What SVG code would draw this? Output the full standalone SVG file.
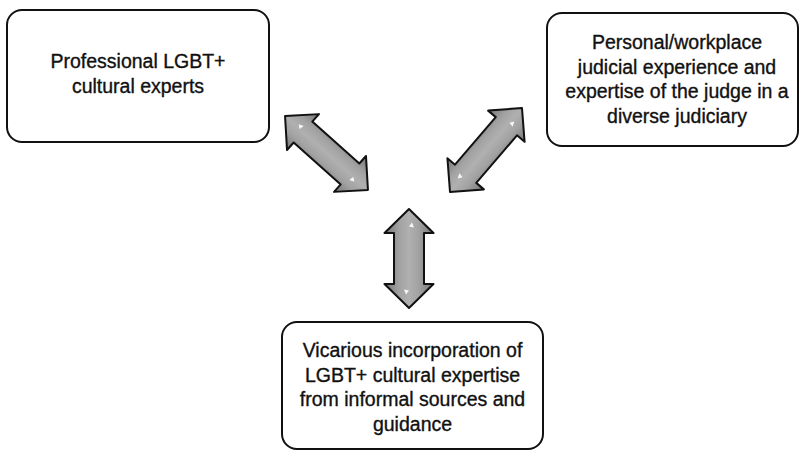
<svg xmlns="http://www.w3.org/2000/svg" width="799" height="450" viewBox="0 0 799 450">
  <defs>
    <linearGradient id="shade" x1="0" y1="0" x2="0" y2="1">
      <stop offset="0" stop-color="#747474"/>
      <stop offset="0.3" stop-color="#a2a2a2"/>
      <stop offset="0.5" stop-color="#b0b0b0"/>
      <stop offset="0.7" stop-color="#a2a2a2"/>
      <stop offset="1" stop-color="#747474"/>
    </linearGradient>
  </defs>
  <style>
    .box { fill: #ffffff; stroke: #111111; stroke-width: 2; }
    .lbl { font-family: "Liberation Sans", Arial, sans-serif; font-size: 19.5px; fill: #111111; stroke: #111111; stroke-width: 0.35; text-anchor: middle; }
    .arrow { fill: url(#shade); stroke: #111111; stroke-width: 2; stroke-linejoin: round; }
    .hl { fill: #ffffff; opacity: 0.9; }
  </style>
  <rect width="799" height="450" fill="#ffffff"/>

  <g id="connectors">
    <g id="arrow-left" transform="translate(326.5,153) rotate(41.7)">
      <polygon class="arrow" points="-55.5,0 -31.5,-24 -31.5,-14 31.5,-14 31.5,-24 55.5,0 31.5,24 31.5,14 -31.5,14 -31.5,24"/>
      <polygon class="hl" points="-40,-3 -35,-5 -36,0"/>
      <polygon class="hl" points="40,3 35,5 36,0"/>
    </g>
    <g id="arrow-right" transform="translate(486,150) rotate(-49.4)">
      <polygon class="arrow" points="-55.3,0 -31.3,-24 -31.3,-14 31.3,-14 31.3,-24 55.3,0 31.3,24 31.3,14 -31.3,14 -31.3,24"/>
      <polygon class="hl" points="-40,-3 -35,-5 -36,0"/>
      <polygon class="hl" points="40,3 35,5 36,0"/>
    </g>
    <g id="arrow-bottom" transform="translate(409,258.5) rotate(90)">
      <polygon class="arrow" points="-49.5,0 -25.5,-24.5 -25.5,-15 25.5,-15 25.5,-24.5 49.5,0 25.5,24.5 25.5,15 -25.5,15 -25.5,24.5"/>
      <polygon class="hl" points="-36,-3 -31,-5 -32,0"/>
      <polygon class="hl" points="36,3 31,5 32,0"/>
    </g>
  </g>

  <g id="node-experts">
    <rect class="box" x="7" y="10" width="262" height="132" rx="15" ry="15"/>
    <text class="lbl" x="138" y="68">Professional LGBT+</text>
    <text class="lbl" x="138" y="92.5">cultural experts</text>
  </g>

  <g id="node-personal">
    <rect class="box" x="547" y="13" width="251" height="133" rx="15" ry="15"/>
    <text class="lbl" x="677" y="49">Personal/workplace</text>
    <text class="lbl" x="677" y="73.5">judicial experience and</text>
    <text class="lbl" x="677" y="98">expertise of the judge in a</text>
    <text class="lbl" x="677" y="122.5">diverse judiciary</text>
  </g>

  <g id="node-vicarious">
    <rect class="box" x="282" y="322" width="261" height="127" rx="15" ry="15"/>
    <text class="lbl" x="412.5" y="357">Vicarious incorporation of</text>
    <text class="lbl" x="412.5" y="381.5">LGBT+ cultural expertise</text>
    <text class="lbl" x="412.5" y="406">from informal sources and</text>
    <text class="lbl" x="412.5" y="430.5">guidance</text>
  </g>
</svg>
